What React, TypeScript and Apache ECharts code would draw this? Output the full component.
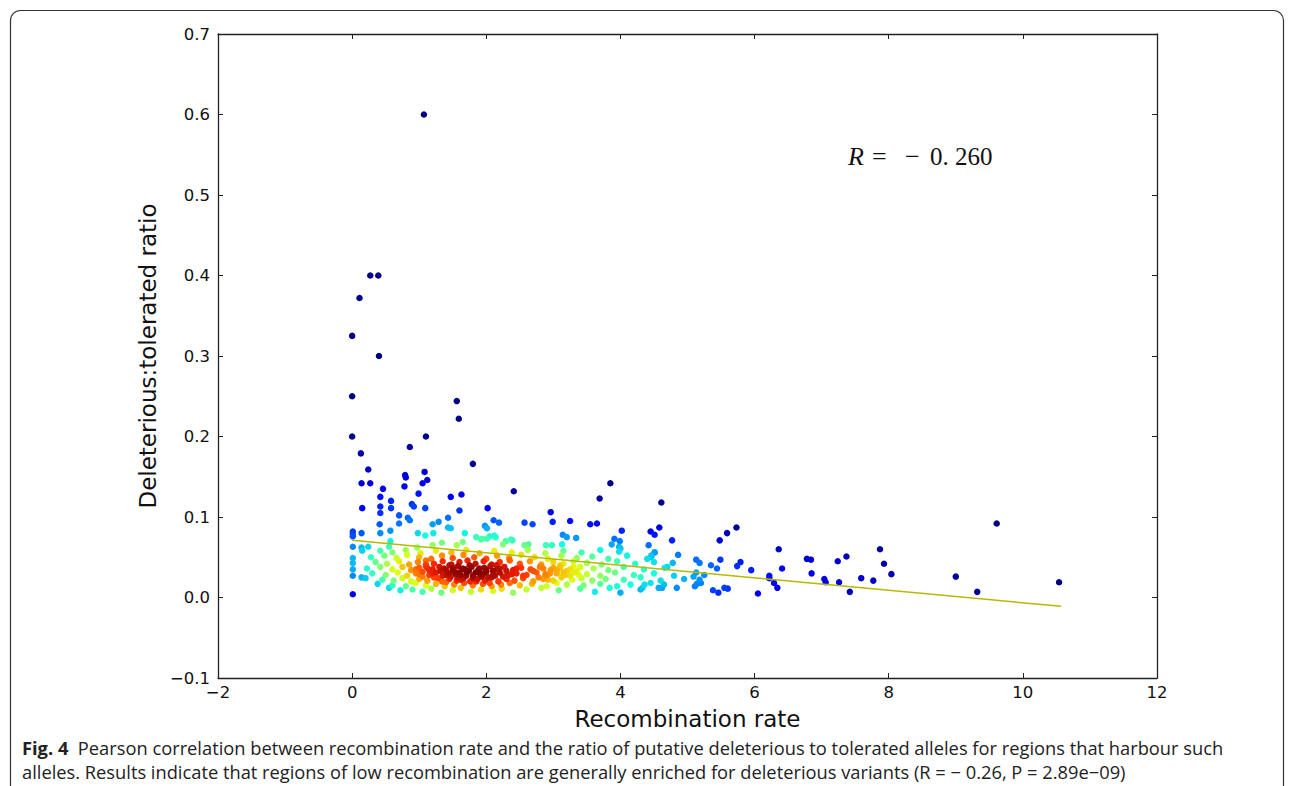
import React, { useEffect, useRef } from "react";
import * as echarts from "echarts";

// ---- tick values ----
const xTickMin = -2;
const xTickMax = 12;
const xTickStep = 2;
const yTickMin = -0.1;
const yTickMax = 0.7;
const yTickStep = 0.1;

// ---- regression line end points ----
const fitX = [0, 10.57];
const fitY = [0.071, -0.011];

// ---- scatter points: [recombination rate, deleterious:tolerated ratio] ----
const upperScatter = [
  [1.07, 0.6], [0.27, 0.4], [0.39, 0.4], [0.11, 0.372], [0.0, 0.325], [0.4, 0.3],
  [0.0, 0.25], [1.56, 0.244], [1.59, 0.222], [0.0, 0.2], [1.1, 0.2], [0.86, 0.187],
  [0.13, 0.179], [1.8, 0.166], [0.24, 0.159], [1.08, 0.156], [0.79, 0.152], [0.8, 0.149],
  [1.12, 0.146], [0.14, 0.142], [0.27, 0.142], [1.05, 0.142], [0.78, 0.138], [0.46, 0.135],
  [2.41, 0.132], [0.99, 0.129], [1.63, 0.128], [0.42, 0.125], [1.47, 0.125], [0.58, 0.12],
  [3.85, 0.142], [3.69, 0.123], [4.61, 0.118],
];

const blueBand = [
  [0.15, 0.111], [0.42, 0.113], [0.58, 0.111], [0.89, 0.116], [0.92, 0.113], [1.09, 0.111],
  [1.6, 0.108], [2.02, 0.111], [2.96, 0.106], [0.42, 0.105], [0.7, 0.102], [0.83, 0.099],
  [0.86, 0.096], [1.43, 0.099], [0.7, 0.092], [0.41, 0.091], [1.2, 0.091], [1.29, 0.094],
  [1.43, 0.087], [1.47, 0.086], [1.98, 0.089], [2.01, 0.086], [2.11, 0.096], [2.19, 0.093],
  [2.57, 0.093], [2.69, 0.091], [2.99, 0.094], [3.25, 0.095], [3.55, 0.091], [3.65, 0.092],
  [4.02, 0.083], [4.45, 0.082], [4.51, 0.078], [4.58, 0.087], [4.77, 0.071], [0.01, 0.082],
  [0.01, 0.079], [0.01, 0.076], [0.14, 0.08], [0.42, 0.08], [0.57, 0.083], [0.98, 0.08],
  [1.09, 0.077], [1.21, 0.08], [1.68, 0.08], [3.14, 0.078], [3.2, 0.075], [3.34, 0.074],
  [3.91, 0.073], [3.99, 0.07], [0.01, 0.063], [0.01, 0.049], [0.01, 0.043], [0.01, 0.035],
  [0.01, 0.027], [0.01, 0.004],
];

const rightTail = [
  [5.48, 0.071], [5.59, 0.08], [5.73, 0.087], [6.36, 0.06], [7.87, 0.06], [9.61, 0.092],
  [6.78, 0.048], [6.84, 0.047], [6.85, 0.03], [7.04, 0.023], [7.06, 0.019], [7.24, 0.045],
  [7.37, 0.051], [7.26, 0.019], [7.42, 0.007], [7.59, 0.024], [7.77, 0.021], [7.93, 0.042],
  [8.04, 0.029], [9.0, 0.026], [9.32, 0.007], [10.54, 0.019], [6.22, 0.027], [6.22, 0.024],
  [6.41, 0.036], [6.29, 0.018], [6.34, 0.012], [6.05, 0.005], [5.95, 0.034], [5.79, 0.044],
  [5.74, 0.039], [5.49, 0.047], [5.35, 0.04], [5.44, 0.036], [5.13, 0.047], [5.18, 0.043],
  [5.38, 0.009], [5.46, 0.006], [5.55, 0.012], [5.6, 0.011], [5.2, 0.018], [5.25, 0.028],
  [5.13, 0.031], [5.09, 0.026], [5.18, 0.022], [5.11, 0.014], [5.14, 0.017], [4.84, 0.012],
  [4.86, 0.053], [4.4, 0.048], [4.46, 0.052], [4.51, 0.056], [4.42, 0.065], [4.78, 0.043],
  [4.7, 0.038], [4.65, 0.016], [4.57, 0.012], [4.36, 0.016], [4.33, 0.012],
];

const clusterTop = [
  [0.57, 0.07], [1.85, 0.075], [1.94, 0.073], [2.01, 0.073], [2.14, 0.075], [2.29, 0.07],
  [2.39, 0.071], [1.92, 0.072], [2.05, 0.076], [2.12, 0.077], [2.37, 0.072],
  [0.14, 0.062], [0.24, 0.063], [0.55, 0.063], [0.97, 0.062], [1.2, 0.065], [1.34, 0.068],
  [1.56, 0.065], [1.65, 0.069], [2.25, 0.066], [2.57, 0.065], [2.63, 0.066], [2.89, 0.065],
  [2.98, 0.065], [3.13, 0.066], [3.87, 0.066], [3.98, 0.063], [4.0, 0.061],
  [0.15, 0.058], [0.42, 0.058], [0.6, 0.056], [0.8, 0.059], [1.02, 0.055], [1.25, 0.058],
  [1.48, 0.056], [1.7, 0.059], [1.9, 0.055], [2.12, 0.058], [2.38, 0.056], [2.62, 0.059],
  [2.88, 0.055], [3.15, 0.058], [3.42, 0.056], [3.7, 0.059], [3.98, 0.057], [4.51, 0.056],
  [0.28, 0.05], [0.48, 0.052], [0.66, 0.049], [0.82, 0.053], [1.0, 0.05], [1.18, 0.048],
  [1.34, 0.052], [1.5, 0.049], [1.66, 0.053], [1.82, 0.05], [2.0, 0.048], [2.16, 0.052],
  [2.34, 0.049], [2.52, 0.053], [2.72, 0.05], [2.92, 0.048], [3.12, 0.052], [3.35, 0.049],
  [3.58, 0.051], [3.82, 0.048], [4.1, 0.052], [4.46, 0.05],
];

const clusterMiddle = [
  [0.35, 0.044], [0.52, 0.042], [0.7, 0.045], [0.85, 0.041], [0.98, 0.044], [1.1, 0.046],
  [1.22, 0.042], [1.35, 0.045], [1.48, 0.041], [1.6, 0.044], [1.72, 0.046], [1.84, 0.042],
  [1.96, 0.045], [2.08, 0.041], [2.2, 0.044], [2.35, 0.046], [2.5, 0.042], [2.65, 0.045],
  [2.82, 0.041], [3.0, 0.044], [3.15, 0.042], [3.3, 0.045], [3.5, 0.043], [3.72, 0.041],
  [3.95, 0.045], [4.22, 0.042], [4.5, 0.044],
  [0.22, 0.036], [0.42, 0.038], [0.6, 0.035], [0.75, 0.038], [0.88, 0.034], [1.0, 0.037],
  [1.1, 0.039], [1.2, 0.035], [1.3, 0.038], [1.4, 0.034], [1.5, 0.037], [1.58, 0.039],
  [1.68, 0.035], [1.78, 0.038], [1.88, 0.034], [1.97, 0.037], [2.06, 0.039], [2.16, 0.035],
  [2.27, 0.038], [2.4, 0.034], [2.52, 0.037], [2.66, 0.035], [2.8, 0.038], [2.96, 0.034],
  [3.1, 0.037], [3.25, 0.035], [3.4, 0.038], [3.6, 0.036], [3.82, 0.034], [4.05, 0.038],
  [4.35, 0.035], [4.66, 0.037],
  [0.3, 0.03], [0.5, 0.028], [0.68, 0.031], [0.82, 0.027], [0.95, 0.03], [1.05, 0.032],
  [1.15, 0.028], [1.25, 0.031], [1.35, 0.027], [1.44, 0.03], [1.53, 0.032], [1.62, 0.028],
  [1.71, 0.031], [1.8, 0.027], [1.9, 0.03], [2.0, 0.032], [2.1, 0.028], [2.2, 0.031],
  [2.32, 0.027], [2.45, 0.03], [2.6, 0.028], [2.75, 0.031], [2.9, 0.027], [3.05, 0.03],
  [3.18, 0.028], [3.32, 0.031], [3.5, 0.029], [3.7, 0.027], [3.92, 0.031], [4.2, 0.028],
  [4.5, 0.03], [4.8, 0.027],
];

const clusterBottom = [
  [0.14, 0.025], [0.2, 0.024], [0.45, 0.022], [0.62, 0.021], [0.75, 0.024], [0.88, 0.02],
  [1.0, 0.023], [1.12, 0.021], [1.22, 0.025], [1.34, 0.02], [1.45, 0.023], [1.56, 0.021],
  [1.66, 0.024], [1.76, 0.02], [1.87, 0.023], [1.98, 0.021], [2.08, 0.025], [2.18, 0.02],
  [2.3, 0.023], [2.42, 0.021], [2.55, 0.024], [2.7, 0.02], [2.85, 0.023], [3.0, 0.021],
  [3.12, 0.025], [3.28, 0.022], [3.42, 0.024], [3.58, 0.021], [3.78, 0.023], [4.05, 0.022],
  [4.3, 0.025], [4.6, 0.021], [4.95, 0.023],
  [0.38, 0.017], [0.6, 0.015], [0.8, 0.014], [0.95, 0.018], [1.1, 0.015], [1.25, 0.017],
  [1.38, 0.014], [1.52, 0.016], [1.67, 0.018], [1.8, 0.015], [1.95, 0.017], [2.08, 0.014],
  [2.22, 0.016], [2.35, 0.018], [2.5, 0.015], [2.68, 0.017], [2.9, 0.014], [3.05, 0.018],
  [3.2, 0.016], [3.45, 0.015], [3.7, 0.017], [3.95, 0.014], [4.15, 0.016], [4.45, 0.018],
  [0.55, 0.012], [0.72, 0.009], [0.9, 0.01], [1.05, 0.007], [1.18, 0.011], [1.33, 0.006],
  [1.5, 0.009], [1.62, 0.012], [1.77, 0.007], [1.92, 0.01], [2.1, 0.008], [2.23, 0.011],
  [2.4, 0.006], [2.6, 0.01], [2.82, 0.012], [3.08, 0.009], [3.4, 0.011], [3.62, 0.007],
  [3.84, 0.012], [4.0, 0.006], [4.3, 0.01], [4.62, 0.012],
];

const clusterCore = [
  [1.05, 0.026], [1.15, 0.034], [1.28, 0.024], [1.32, 0.033], [1.4, 0.028], [1.47, 0.026],
  [1.5, 0.034], [1.57, 0.025], [1.6, 0.031], [1.65, 0.036], [1.7, 0.027], [1.74, 0.033],
  [1.8, 0.024], [1.84, 0.031], [1.9, 0.036], [1.93, 0.026], [2.0, 0.034], [2.03, 0.025],
  [2.1, 0.033], [2.13, 0.027], [2.2, 0.036], [2.25, 0.026], [2.3, 0.033], [2.38, 0.029],
  [1.2, 0.03], [1.37, 0.036], [1.55, 0.029], [1.75, 0.04], [1.95, 0.029], [2.15, 0.04],
  [1.1, 0.041], [1.45, 0.04], [2.45, 0.036], [2.55, 0.027], [1.62, 0.022], [1.85, 0.02],
  [2.05, 0.018], [1.4, 0.019], [1.0, 0.029], [1.12, 0.037], [0.95, 0.035],
  [2.7, 0.033], [2.85, 0.036], [2.95, 0.03], [3.05, 0.034], [3.15, 0.031], [3.25, 0.027],
  [2.78, 0.025], [3.1, 0.04], [3.35, 0.033], [2.88, 0.029], [3.0, 0.037], [3.2, 0.033],
  [3.3, 0.038], [2.92, 0.022], [3.38, 0.028],
];

const jetColors = [
  "#000080", "#0000ff", "#0080ff", "#14ffe2", "#7bff7b",
  "#e2ff14", "#ff9700", "#ff2100", "#800000",
];

const captionLine1 =
  "{b|Fig. 4}  Pearson correlation between recombination rate and the ratio of putative deleterious to tolerated alleles for regions that harbour such";
const captionLine2 =
  "alleles. Results indicate that regions of low recombination are generally enriched for deleterious variants (R = − 0.26, P = 2.89e−09)";

// Gaussian KDE (Scott's rule, full covariance) to colour points by density
function withDensity(pts: number[][]): number[][] {
  const n = pts.length;
  let mx = 0, my = 0;
  for (const p of pts) { mx += p[0]; my += p[1]; }
  mx /= n; my /= n;
  let sxx = 0, syy = 0, sxy = 0;
  for (const p of pts) {
    const dx = p[0] - mx, dy = p[1] - my;
    sxx += dx * dx; syy += dy * dy; sxy += dx * dy;
  }
  sxx /= n - 1; syy /= n - 1; sxy /= n - 1;
  const f2 = Math.pow(n, -2 / 6);
  const a = sxx * f2, d = syy * f2, b = sxy * f2;
  const det = a * d - b * b;
  const ia = d / det, id = a / det, ib = -b / det;
  return pts.map((p) => {
    let s = 0;
    for (const q of pts) {
      const dx = p[0] - q[0], dy = p[1] - q[1];
      s += Math.exp(-0.5 * (dx * dx * ia + 2 * dx * dy * ib + dy * dy * id));
    }
    return [p[0], p[1], s];
  });
}

const fontSans = "DejaVu Sans";

export default function App() {
  const ref = useRef<HTMLDivElement>(null);
  useEffect(() => {
    if (!ref.current) return;
    const chart = echarts.init(ref.current, undefined, { renderer: "svg" });
    const all = [
      ...upperScatter, ...blueBand, ...rightTail,
      ...clusterTop, ...clusterMiddle, ...clusterBottom, ...clusterCore,
    ];
    const dens = withDensity(all).sort((p, q) => p[2] - q[2]);
    const dMin = dens[0][2];
    const dMax = dens[dens.length - 1][2];

    const axisLineStyle = { color: "#222", width: 1.3 };
    const xLabelFmt = (v: number) => String(v).replace("-", "−");
    const yLabelFmt = (v: number) => v.toFixed(1).replace("-", "−");

    const baseX = {
      type: "value" as const,
      min: xTickMin, max: xTickMax, interval: xTickStep,
      splitLine: { show: false },
      axisLine: { show: true, onZero: false, lineStyle: axisLineStyle },
      axisTick: { show: true, inside: true, length: 5, lineStyle: { color: "#222" } },
    };
    const baseY = {
      type: "value" as const,
      min: yTickMin, max: yTickMax, interval: yTickStep,
      splitLine: { show: false },
      axisLine: { show: true, onZero: false, lineStyle: axisLineStyle },
      axisTick: { show: true, inside: true, length: 5, lineStyle: { color: "#222" } },
    };

    chart.setOption({
      animation: false,
      backgroundColor: "#fff",
      grid: { left: 218, right: 136, top: 34, bottom: 108, containLabel: false },
      xAxis: [
        {
          ...baseX, position: "bottom",
          axisLabel: { color: "#111", fontSize: 16.5, fontFamily: fontSans, margin: 6, formatter: xLabelFmt, showMinLabel: true, showMaxLabel: true },
          name: "Recombination rate", nameLocation: "middle", nameGap: 29,
          nameTextStyle: { color: "#111", fontSize: 23, fontFamily: fontSans },
        },
        { ...baseX, position: "top", axisLabel: { show: false } },
      ],
      yAxis: [
        {
          ...baseY, position: "left",
          axisLabel: { color: "#111", fontSize: 16.5, fontFamily: fontSans, margin: 8, formatter: yLabelFmt, showMinLabel: true, showMaxLabel: true },
          name: "Deleterious:tolerated ratio", nameLocation: "middle", nameGap: 55,
          nameTextStyle: { color: "#111", fontSize: 23, fontFamily: fontSans },
        },
        { ...baseY, position: "right", axisLabel: { show: false } },
      ],
      visualMap: {
        type: "continuous", show: false, dimension: 2, seriesIndex: 0,
        min: dMin, max: dMax, inRange: { color: jetColors },
      },
      series: [
        {
          type: "scatter", xAxisIndex: 0, yAxisIndex: 0,
          data: dens, symbolSize: 6.5, itemStyle: { opacity: 1 }, z: 2,
        },
        {
          type: "line", xAxisIndex: 0, yAxisIndex: 0,
          data: fitX.map((x, i) => [x, fitY[i]]),
          symbol: "none", lineStyle: { color: "#b8b800", width: 1.5 }, z: 3,
        },
      ],
      graphic: [
        {
          type: "rect", shape: { x: 10.5, y: 10.5, width: 1273, height: 820, r: 10 },
          style: { fill: "none", stroke: "#333", lineWidth: 1.2 }, silent: true,
        },
        {
          type: "text", x: 848, y: 156,
          style: {
            text: "{i|R}{e|=}{m|−}{n|0. 260}",
            verticalAlign: "middle",
            rich: {
              i: { fontFamily: "Liberation Serif", fontStyle: "italic", fontSize: 26, width: 24, fill: "#111" },
              e: { fontFamily: "Liberation Serif", fontSize: 26, width: 33, fill: "#111" },
              m: { fontFamily: "Liberation Serif", fontSize: 26, width: 25, fill: "#111" },
              n: { fontFamily: "Liberation Serif", fontSize: 25, fill: "#111" },
            },
          },
        },
        {
          type: "text", x: 22, y: 747,
          style: {
            text: captionLine1, fontFamily: "Open Sans", fontSize: 18.3, fill: "#222",
            verticalAlign: "middle",
            rich: { b: { fontFamily: "Open Sans", fontSize: 18.3, fontWeight: "bold", fill: "#222" } },
          },
        },
        {
          type: "text", x: 22, y: 771,
          style: { text: captionLine2, fontFamily: "Open Sans", fontSize: 18.3, fill: "#222", verticalAlign: "middle" },
        },
      ],
    });
    return () => chart.dispose();
  }, []);
  return (
    <div
      ref={ref}
      style={{ position: "fixed", left: 0, top: 0, width: 1293, height: 786, background: "#fff" }}
    />
  );
}
